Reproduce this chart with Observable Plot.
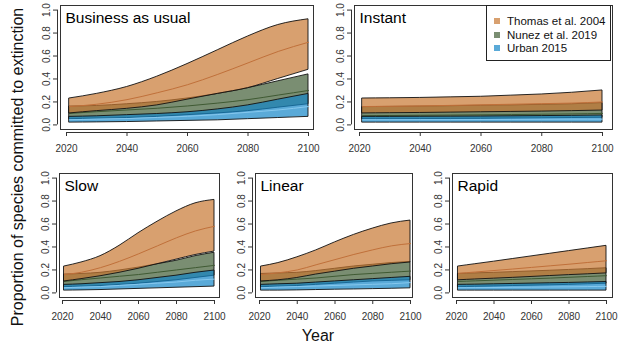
<!DOCTYPE html>
<html><head><meta charset="utf-8">
<script src="https://cdn.jsdelivr.net/npm/d3@7"></script>
<script src="https://cdn.jsdelivr.net/npm/@observablehq/plot@0.6"></script>
<style>
html,body{margin:0;padding:0;background:#fff;}
#root{position:relative;width:624px;height:356px;overflow:hidden;font-family:"Liberation Sans",Arial,sans-serif;background:#fff;}
#root svg{position:absolute;left:0;top:0;}
.legend{position:absolute;left:486px;top:5px;width:125px;height:56px;border:1px solid #222;background:#fff;box-sizing:border-box;}
.legend .row{position:absolute;left:0;height:14px;font-size:11.5px;line-height:14px;color:#111;white-space:nowrap;}
.legend .sw{position:absolute;left:7px;top:4px;width:6px;height:6px;}
.legend .lab{position:absolute;left:20px;top:0;}
.ytitle{position:absolute;left:18px;top:167px;transform:translate(-50%,-50%) rotate(-90deg);font-size:16px;white-space:nowrap;color:#111;}
.xtitle{position:absolute;left:318px;top:336px;transform:translate(-50%,-50%);font-size:16px;white-space:nowrap;color:#111;}
</style></head><body><div id="root"></div>
<script>
// ---- data ----
const years = [2021, 2030, 2040, 2050, 2060, 2070, 2080, 2090, 2100];
const sources = ["Thomas et al. 2004", "Nunez et al. 2019", "Urban 2015"];
const scenarios = ["Business as usual", "Instant", "Slow", "Linear", "Rapid"];
const yTicks = [0, 0.2, 0.4, 0.6, 0.8, 1.0];
const xTicks = [2020, 2040, 2060, 2080, 2100];

// Business as usual
const bau_thomas_hi = [0.23, 0.27, 0.33, 0.42, 0.53, 0.65, 0.77, 0.87, 0.92];
const bau_thomas_mid = [0.16, 0.18, 0.22, 0.28, 0.35, 0.44, 0.54, 0.64, 0.72];
const bau_thomas_lo = [0.10, 0.12, 0.14, 0.17, 0.22, 0.27, 0.32, 0.40, 0.48];
const bau_nunez_hi = [0.16, 0.165, 0.18, 0.20, 0.23, 0.27, 0.32, 0.38, 0.44];
const bau_nunez_mid = [0.10, 0.115, 0.13, 0.145, 0.165, 0.19, 0.22, 0.26, 0.30];
const bau_nunez_lo = [0.05, 0.055, 0.06, 0.07, 0.085, 0.10, 0.12, 0.15, 0.18];
const bau_urban_hi = [0.07, 0.075, 0.085, 0.095, 0.11, 0.135, 0.17, 0.22, 0.27];
const bau_urban_mid = [0.045, 0.05, 0.055, 0.065, 0.075, 0.09, 0.11, 0.13, 0.16];
const bau_urban_lo = [0.02, 0.022, 0.025, 0.03, 0.035, 0.04, 0.05, 0.06, 0.07];

// Instant
const ins_thomas_hi = [0.23, 0.232, 0.235, 0.24, 0.245, 0.255, 0.265, 0.28, 0.30];
const ins_thomas_mid = [0.16, 0.162, 0.165, 0.17, 0.175, 0.18, 0.185, 0.19, 0.20];
const ins_thomas_lo = [0.10, 0.102, 0.104, 0.107, 0.11, 0.113, 0.116, 0.12, 0.125];
const ins_nunez_hi = [0.155, 0.157, 0.16, 0.163, 0.167, 0.17, 0.175, 0.18, 0.19];
const ins_nunez_mid = [0.08, 0.082, 0.084, 0.086, 0.088, 0.09, 0.093, 0.096, 0.10];
const ins_nunez_lo = [0.05, 0.05, 0.051, 0.052, 0.053, 0.055, 0.057, 0.06, 0.062];
const ins_urban_hi = [0.07, 0.07, 0.071, 0.072, 0.073, 0.075, 0.077, 0.079, 0.082];
const ins_urban_mid = [0.045, 0.045, 0.046, 0.046, 0.047, 0.048, 0.049, 0.05, 0.05];
const ins_urban_lo = [0.02, 0.02, 0.02, 0.02, 0.02, 0.02, 0.02, 0.02, 0.02];

// Slow
const slow_thomas_hi = [0.23, 0.265, 0.32, 0.41, 0.52, 0.62, 0.71, 0.78, 0.81];
const slow_thomas_mid = [0.16, 0.18, 0.22, 0.275, 0.34, 0.41, 0.48, 0.54, 0.58];
const slow_thomas_lo = [0.10, 0.12, 0.145, 0.175, 0.21, 0.25, 0.29, 0.33, 0.36];
const slow_nunez_hi = [0.16, 0.165, 0.175, 0.195, 0.22, 0.25, 0.28, 0.32, 0.35];
const slow_nunez_mid = [0.10, 0.115, 0.13, 0.145, 0.16, 0.18, 0.20, 0.22, 0.24];
const slow_nunez_lo = [0.05, 0.055, 0.06, 0.07, 0.08, 0.095, 0.11, 0.13, 0.15];
const slow_urban_hi = [0.07, 0.075, 0.085, 0.095, 0.11, 0.13, 0.15, 0.175, 0.195];
const slow_urban_mid = [0.045, 0.05, 0.055, 0.065, 0.075, 0.085, 0.095, 0.11, 0.12];
const slow_urban_lo = [0.02, 0.022, 0.025, 0.03, 0.035, 0.04, 0.045, 0.05, 0.055];

// Linear
const lin_thomas_hi = [0.23, 0.26, 0.31, 0.37, 0.44, 0.505, 0.56, 0.605, 0.63];
const lin_thomas_mid = [0.16, 0.175, 0.20, 0.245, 0.29, 0.335, 0.375, 0.41, 0.43];
const lin_thomas_lo = [0.10, 0.11, 0.13, 0.16, 0.185, 0.21, 0.23, 0.25, 0.265];
const lin_nunez_hi = [0.165, 0.17, 0.175, 0.19, 0.21, 0.23, 0.245, 0.26, 0.27];
const lin_nunez_mid = [0.10, 0.11, 0.12, 0.13, 0.145, 0.16, 0.17, 0.18, 0.19];
const lin_nunez_lo = [0.05, 0.055, 0.06, 0.07, 0.08, 0.09, 0.10, 0.105, 0.11];
const lin_urban_hi = [0.07, 0.075, 0.08, 0.09, 0.10, 0.11, 0.12, 0.13, 0.14];
const lin_urban_mid = [0.045, 0.05, 0.055, 0.06, 0.065, 0.07, 0.075, 0.08, 0.09];
const lin_urban_lo = [0.02, 0.02, 0.022, 0.025, 0.028, 0.03, 0.033, 0.036, 0.04];

// Rapid
const rap_thomas_hi = [0.23, 0.25, 0.272, 0.295, 0.318, 0.341, 0.364, 0.387, 0.41];
const rap_thomas_mid = [0.17, 0.182, 0.195, 0.208, 0.222, 0.236, 0.25, 0.265, 0.28];
const rap_thomas_lo = [0.11, 0.117, 0.124, 0.131, 0.139, 0.147, 0.155, 0.162, 0.17];
const rap_nunez_hi = [0.165, 0.17, 0.175, 0.181, 0.187, 0.193, 0.2, 0.207, 0.215];
const rap_nunez_mid = [0.10, 0.105, 0.111, 0.117, 0.123, 0.129, 0.136, 0.143, 0.15];
const rap_nunez_lo = [0.05, 0.053, 0.056, 0.06, 0.063, 0.066, 0.07, 0.075, 0.08];
const rap_urban_hi = [0.07, 0.072, 0.075, 0.078, 0.081, 0.084, 0.087, 0.091, 0.095];
const rap_urban_mid = [0.045, 0.046, 0.047, 0.049, 0.05, 0.052, 0.053, 0.055, 0.057];
const rap_urban_lo = [0.02, 0.02, 0.02, 0.02, 0.02, 0.02, 0.02, 0.02, 0.02];

// ---- styles ----
const fills = ["rgb(200,120,50)", "rgb(66,94,54)", "rgb(20,134,199)"];
const midColors = ["#c0703a", "#3f5a33", "#86c8ee"];
const legendColors = ["#d8a06f", "#7a8e72", "#5aaad8"];

function rows(lo, mid, hi) {
  return years.map((year, i) => ({year, lo: lo[i], mid: mid[i], hi: hi[i]}));
}

const panelData = [
  [rows(bau_thomas_lo, bau_thomas_mid, bau_thomas_hi), rows(bau_nunez_lo, bau_nunez_mid, bau_nunez_hi), rows(bau_urban_lo, bau_urban_mid, bau_urban_hi)],
  [rows(ins_thomas_lo, ins_thomas_mid, ins_thomas_hi), rows(ins_nunez_lo, ins_nunez_mid, ins_nunez_hi), rows(ins_urban_lo, ins_urban_mid, ins_urban_hi)],
  [rows(slow_thomas_lo, slow_thomas_mid, slow_thomas_hi), rows(slow_nunez_lo, slow_nunez_mid, slow_nunez_hi), rows(slow_urban_lo, slow_urban_mid, slow_urban_hi)],
  [rows(lin_thomas_lo, lin_thomas_mid, lin_thomas_hi), rows(lin_nunez_lo, lin_nunez_mid, lin_nunez_hi), rows(lin_urban_lo, lin_urban_mid, lin_urban_hi)],
  [rows(rap_thomas_lo, rap_thomas_mid, rap_thomas_hi), rows(rap_nunez_lo, rap_nunez_mid, rap_nunez_hi), rows(rap_urban_lo, rap_urban_mid, rap_urban_hi)]
];

// layout: frame left, right, top, bottom; pixel of 2020 and 2100 ticks
const layout = [
  {L: 60, R: 313, T: 5, B: 129, a: 66, b: 308},
  {L: 354, R: 612, T: 5, B: 129, a: 359, b: 602},
  {L: 59, R: 219, T: 173, B: 297, a: 62, b: 214},
  {L: 255, R: 412, T: 173, B: 297, a: 259, b: 410},
  {L: 452, R: 612, T: 173, B: 297, a: 456, b: 606}
];

const W = 624, H = 356;
const root = document.getElementById("root");
const yDomain = [-0.04, 1.04];

scenarios.forEach((title, p) => {
  const g = layout[p];
  const ppy = (g.b - g.a) / 80;
  const xDomain = [2020 - (g.a - g.L) / ppy, 2100 + (g.R - g.b) / ppy];
  const xmin = xDomain[0], ymin = yDomain[0];
  const [th, nu, ur] = panelData[p];
  const ribbon = (d, k) => [
    Plot.areaY(d, {x: "year", y1: "lo", y2: "hi", fill: fills[k], fillOpacity: 0.7, stroke: "#111", strokeWidth: 0.9, curve: "monotone-x"}),
    Plot.lineY(d, {x: "year", y: "mid", stroke: midColors[k], strokeWidth: 1, curve: "monotone-x"})
  ];
  const svg = Plot.plot({
    width: W, height: H,
    marginLeft: g.L, marginRight: W - g.R, marginTop: g.T, marginBottom: H - g.B,
    x: {domain: xDomain, axis: null},
    y: {domain: yDomain, axis: null},
    style: {background: "transparent", fontFamily: "'Liberation Sans', Arial, sans-serif", overflow: "visible"},
    marks: [
      ...ribbon(nu, 1),
      ...ribbon(ur, 2),
      ...ribbon(th, 0),
      Plot.frame({stroke: "#333", strokeWidth: 1}),
      // y axis
      Plot.ruleX([xmin], {y1: 0, y2: 1, dx: -3, stroke: "#333"}),
      Plot.ruleY(yTicks, {x1: xmin, x2: xmin, dx: -3, insetLeft: -4, insetRight: 0, stroke: "#333"}),
      Plot.text(yTicks, {x: xmin, y: d => d, text: d => d.toFixed(1), rotate: -90, dx: -14, fontSize: 10, fill: "#333"}),
      // x axis
      Plot.ruleY([ymin], {x1: 2020, x2: 2100, dy: 3, stroke: "#333"}),
      Plot.ruleX(xTicks, {y1: ymin, y2: ymin, dy: 3, insetTop: 0, insetBottom: -4, stroke: "#333"}),
      Plot.text(xTicks, {x: d => d, y: ymin, text: d => String(d), dy: 19, fontSize: 10, fill: "#333"}),
      // panel title
      Plot.text([title], {frameAnchor: "top-left", text: d => d, textAnchor: "start", lineAnchor: "top", dx: 5, dy: 6, fontSize: 15.5, fill: "#000"})
    ]
  });
  root.appendChild(svg);
});

// legend
const legend = document.createElement("div");
legend.className = "legend";
sources.forEach((s, i) => {
  const row = document.createElement("div");
  row.className = "row";
  row.style.top = (8 + i * 13.7) + "px";
  row.innerHTML = `<span class="sw" style="background:${legendColors[i]}"></span><span class="lab">${s}</span>`;
  legend.appendChild(row);
});
root.appendChild(legend);

const yt = document.createElement("div");
yt.className = "ytitle";
yt.textContent = "Proportion of species committed to extinction";
root.appendChild(yt);
const xt = document.createElement("div");
xt.className = "xtitle";
xt.textContent = "Year";
root.appendChild(xt);
</script>
</body></html>
